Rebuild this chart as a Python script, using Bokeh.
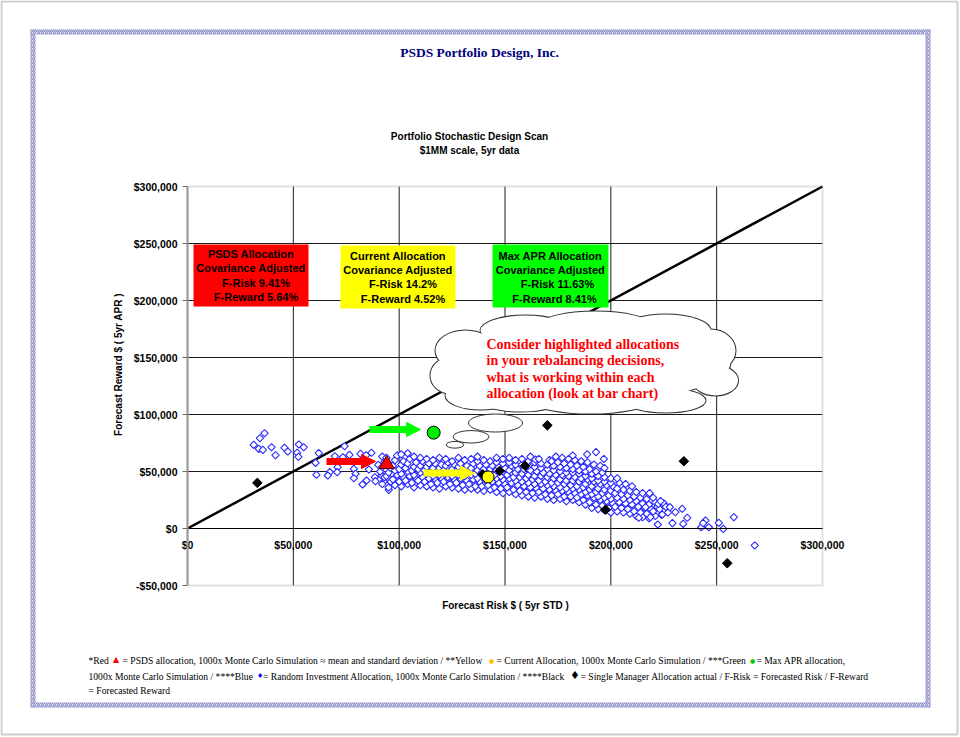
import math
from bokeh.plotting import figure
from bokeh.models import (Range1d, LinearAxis, FixedTicker, BoxAnnotation, Label,
                          Arrow, NormalHead)
from bokeh.embed import file_html
from bokeh.resources import INLINE

# ---------------- chart values ----------------
x_ticks = [0, 50000, 100000, 150000, 200000, 250000, 300000]
x_tick_labels = ["$0", "$50,000", "$100,000", "$150,000", "$200,000", "$250,000", "$300,000"]
y_ticks = [-50000, 0, 50000, 100000, 150000, 200000, 250000, 300000]
y_tick_labels = ["-$50,000", "$0", "$50,000", "$100,000", "$150,000",
                 "$200,000", "$250,000", "$300,000"]

diag_risk = [0, 300000]
diag_reward = [0, 300000]

psds_risk = [94100]
psds_reward = [56400]
current_risk = [142000]
current_reward = [45200]
maxapr_risk = [116300]
maxapr_reward = [84100]

manager_risk = [33000, 139500, 147500, 159500, 170000, 197500, 234500, 255000]
manager_reward = [40000, 47500, 50500, 55000, 90500, 16500, 59000, -30500]

# random investment allocations (risk k$, reward k$)
blue_left_k = [
    (36.4, 83.6), (34.2, 79.2), (31.3, 73.4), (33.7, 69.9), (35.6, 69.0), (39.7, 71.3),
    (41.6, 64.3), (45.8, 70.8), (47.4, 67.5), (52.6, 73.7), (54.9, 71.3), (51.8, 66.4),
    (52.4, 62.9), (62.0, 66.1), (60.5, 57.6), (60.9, 47.1), (74.2, 72.2), (69.6, 63.4),
    (73.4, 62.5), (76.5, 64.6), (70.9, 53.8), (70.7, 49.4), (67.2, 49.4), (66.3, 46.5),
    (81.7, 65.5), (84.4, 64.3), (86.9, 66.4), (78.6, 52.4), (79.4, 48.0), (78.6, 44.1),
    (85.7, 51.8), (84.6, 42.1), (82.7, 38.6), (88.5, 45.0), (88.8, 41.5), (91.7, 46.5),
    (92.7, 41.2), (95.1, 33.9), (90.1, 55.9), (96.7, 48.0), (100.6, 39.7),
]
blue_core_k = [
    (92, 39), (93, 45), (91, 50), (92, 54), (93, 58), (92, 63),
    (95, 36), (96, 41), (94, 46), (95, 49), (96, 53), (95, 57), (94, 62),
    (98, 38), (97, 43), (99, 47), (98, 51), (97, 55), (98, 60), (99, 64),
    (101, 37), (100, 41), (102, 45), (101, 48), (100, 52), (101, 56), (102, 59), (101, 65),
    (104, 39), (103, 42), (105, 46), (104, 50), (103, 53), (104, 57), (105, 61), (104, 66),
    (107, 36), (106, 40), (108, 44), (107, 47), (106, 51), (107, 54), (108, 58), (107, 63),
    (110, 38), (109, 42), (111, 45), (110, 49), (109, 52), (110, 55), (111, 59), (110, 62),
    (113, 37), (112, 41), (114, 44), (113, 48), (112, 51), (113, 54), (114, 57), (113, 61),
    (116, 36), (115, 39), (117, 43), (116, 46), (115, 50), (116, 53), (117, 57), (116, 60),
    (119, 35), (118, 40), (120, 44), (119, 47), (118, 50), (119, 53), (120, 56), (119, 62),
    (122, 37), (121, 41), (123, 45), (122, 48), (121, 51), (122, 55), (123, 58), (122, 61),
    (125, 36), (124, 39), (126, 43), (125, 46), (124, 49), (125, 52), (126, 56), (125, 59),
    (128, 35), (127, 40), (129, 44), (128, 47), (127, 50), (128, 54), (129, 57), (128, 62),
    (131, 34), (130, 38), (132, 42), (131, 46), (130, 49), (131, 52), (132, 55), (131, 60),
    (134, 35), (133, 39), (135, 43), (134, 47), (133, 50), (134, 53), (135, 57), (134, 61),
    (137, 34), (136, 37), (138, 41), (137, 44), (136, 48), (137, 51), (138, 55), (137, 59), (137, 63),
    (140, 33), (139, 37), (141, 42), (140, 45), (139, 49), (140, 52), (141, 56), (140, 60),
    (143, 34), (142, 38), (144, 41), (143, 45), (142, 48), (143, 52), (144, 55), (143, 59),
    (146, 32), (145, 36), (147, 40), (146, 44), (145, 47), (146, 51), (147, 54), (146, 58), (146, 62),
    (149, 31), (148, 35), (150, 39), (149, 43), (148, 46), (149, 50), (150, 53), (149, 57), (149, 61),
    (152, 32), (151, 36), (153, 40), (152, 44), (151, 47), (152, 51), (153, 55), (152, 58), (152, 62),
    (155, 30), (154, 34), (156, 38), (155, 42), (154, 45), (155, 49), (156, 52), (155, 56), (155, 60),
    (158, 29), (157, 33), (159, 37), (158, 41), (157, 45), (158, 48), (159, 52), (158, 56), (158, 61),
    (161, 28), (160, 32), (162, 36), (161, 40), (160, 44), (161, 47), (162, 51), (161, 55), (161, 59), (162, 63),
    (164, 27), (163, 31), (165, 35), (164, 39), (163, 43), (164, 46), (165, 50), (164, 54), (164, 58), (164.4, 60.5),
    (167, 28), (166, 32), (168, 35), (167, 39), (166, 42), (167, 46), (168, 49), (167, 53), (167, 57), (166, 61),
    (170, 26), (169, 30), (171, 34), (170, 38), (169, 41), (170, 45), (171, 48), (170, 52), (170, 56), (171, 60),
    (173, 25), (172, 29), (174, 33), (173, 37), (172, 40), (173, 44), (174, 47), (173, 51), (173, 55), (172, 59), (174, 63),
    (176, 26), (175, 30), (177, 33), (176, 36), (175, 40), (176, 43), (177, 47), (176, 50), (176, 54), (175, 58), (177, 62),
    (179, 24), (178, 28), (180, 32), (179, 35), (178, 39), (179, 42), (180, 46), (179, 49), (179, 53), (178, 57), (180, 61),
    (182, 25), (181, 28), (183, 31), (182, 35), (181, 38), (182, 42), (183, 45), (182, 49), (182, 52), (181, 56), (183, 60), (182, 64),
    (185, 23), (184, 27), (186, 30), (185, 34), (184, 37), (185, 41), (186, 44), (185, 48), (185, 51), (184, 55), (186, 59),
    (188, 21), (187, 25), (189, 29), (188, 32), (187, 36), (188, 39), (189, 43), (188, 46), (188, 50), (187, 54), (189, 58), (188.8, 65.0),
    (191, 18), (190, 23), (192, 27), (191, 30), (190, 34), (191, 37), (192, 41), (191, 44), (191, 48), (190, 52), (192, 56), (193, 67),
    (194, 17), (193, 21), (195, 25), (194, 28), (193, 32), (194, 35), (195, 39), (194, 42), (194, 46), (193, 50), (195, 55),
    (197, 16), (196, 20), (198, 24), (197, 27), (196, 31), (197, 34), (198, 38), (197, 41), (197, 45), (196, 49), (197, 53), (196.7, 61.0),
    (200, 14), (199, 18), (201, 22), (200, 26), (199, 29), (200, 33), (201, 37), (200, 40), (200, 44),
    (203, 15), (202, 19), (204, 23), (203, 27), (202, 31), (203, 35), (204, 40), (203, 44),
    (206, 14), (205, 18), (207, 22), (206, 26), (205, 30), (206, 34), (207, 39),
    (209, 13), (208, 17), (210, 21), (209, 25), (208, 29), (209, 33), (210, 37),
    (212, 11), (211, 15), (213, 19), (212, 24), (211, 28), (212, 32),
    (215, 10), (214, 14), (216, 18), (215, 22), (214, 27), (215, 31),
    (218, 9), (217, 13), (219, 17), (218, 21), (217, 26), (218, 30),
    (221, 11), (220, 15), (222, 19), (221, 23), (220, 27),
    (224, 12), (223, 17), (225, 22),
    (227, 14), (226, 19),
]
blue_tail_k = [
    (258.1, 9.9), (253.1, -0.3), (251.0, 5.0), (246.3, 1.1), (244.7, 7.0), (242.7, 1.1),
    (243.6, 4.7), (236.1, 9.4), (234.2, 4.1), (229.1, 4.7), (233.7, 17.3), (230.5, 14.3),
    (227.9, 18.7), (222.2, 3.5), (224.3, 12.3), (222.4, 21.6), (223.5, 24.0), (218.3, 31.0),
    (218.7, 9.9), (213.2, 9.4), (216.4, 18.7), (268.0, -14.9),
]

box_titles = ["PSDS Allocation", "Current Allocation", "Max APR Allocation"]
box_subtitle = "Covariance Adjusted"
box_f_risk = ["9.41%", "14.2%", "11.63%"]
box_f_reward = ["5.64%", "4.52%", "8.41%"]

page_title = "PSDS Portfolio Design, Inc."
chart_title = ["Portfolio Stochastic Design Scan", "$1MM scale, 5yr data"]
x_title = "Forecast Risk $ ( 5yr STD )"
y_title = "Forecast Reward $ ( 5yr APR )"
cloud_lines = ["Consider highlighted allocations", "in your rebalancing decisions,",
               "what is working within each", "allocation (look at bar chart)"]

# ---------------- layout (page pixels) ----------------
W, H = 960, 737
FL, FR, FT, FB = 187, 822, 186, 585          # plot area on the page
XMIN, XMAX, YMIN, YMAX = 0, 300000, -50000, 300000


def dx(px):
    return XMIN + (px - FL) * (XMAX - XMIN) / (FR - FL)


def dy(py):
    return YMAX - (py - FT) * (YMAX - YMIN) / (FB - FT)


def sw(w):
    return w * (XMAX - XMIN) / (FR - FL)


def sh(h):
    return h * (YMAX - YMIN) / (FB - FT)


# the frame covers the whole page, so nothing outside the plot area gets clipped
p = figure(width=W, height=H, x_range=Range1d(dx(0), dx(W)), y_range=Range1d(dy(H), dy(0)),
           output_backend="svg", toolbar_location=None, title=None,
           x_axis_location=None, y_axis_location=None,
           min_border_left=0, min_border_right=0, min_border_top=0, min_border_bottom=0)
p.min_border = 0
p.background_fill_color = "white"
p.border_fill_color = "white"
p.outline_line_color = None
p.xgrid.visible = False
p.ygrid.visible = False

# grid lines at the interior ticks
gx = x_ticks[1:-1]
gy = y_ticks[1:-1]
p.segment(x0=gx, y0=[YMIN] * len(gx), x1=gx, y1=[YMAX] * len(gx),
          line_color="#1a1a1a", line_width=1)
p.segment(x0=[XMIN] * len(gy), y0=gy, x1=[XMAX] * len(gy), y1=gy,
          line_color="#1a1a1a", line_width=1)

# plot-area border
p.add_layout(BoxAnnotation(left=XMIN, right=XMAX, bottom=YMIN, top=YMAX, fill_alpha=0,
                           line_color="#9a9a9a", line_width=2))

# axes
yax = LinearAxis(fixed_location=0, bounds=(YMIN, YMAX), ticker=FixedTicker(ticks=y_ticks),
                 major_label_overrides={t: l for t, l in zip(y_ticks, y_tick_labels)},
                 major_label_text_font="Liberation Sans", major_label_text_font_style="bold",
                 major_label_text_font_size="10.5px", major_label_text_color="black",
                 major_tick_out=5, major_tick_in=0, major_label_standoff=5,
                 minor_tick_line_color=None, axis_line_color="#9a9a9a", axis_line_width=2,
                 major_tick_line_color="#666666")
p.add_layout(yax, "left")

xax = LinearAxis(fixed_location=0, bounds=(XMIN, XMAX), ticker=FixedTicker(ticks=x_ticks),
                 major_label_overrides={t: l for t, l in zip(x_ticks, x_tick_labels)},
                 major_label_text_font="Liberation Sans", major_label_text_font_style="bold",
                 major_label_text_font_size="10.5px", major_label_text_color="black",
                 major_tick_in=0, major_tick_out=0, major_label_standoff=10,
                 minor_tick_line_color=None, axis_line_color="black")
p.add_layout(xax, "below")

p.add_layout(Label(x=dx(505), y=dy(605), text=x_title, text_align="center", text_baseline="middle",
                   text_font="Liberation Sans", text_font_style="bold", text_font_size="10px",
                   text_color="black"))
p.add_layout(Label(x=dx(118), y=dy(364), text=y_title, angle=math.pi / 2, text_align="center",
                   text_baseline="middle", text_font="Liberation Sans", text_font_style="bold",
                   text_font_size="10px", text_color="black"))

# 45-degree reference line
p.line(diag_risk, diag_reward, line_color="black", line_width=2.5)

# thought cloud (page px: cx, cy, w, h)
cloud_lobes = [
    (585, 362, 290, 80), (465, 350, 60, 40), (450, 375, 40, 36), (480, 395, 70, 28),
    (525, 330, 90, 30), (595, 325, 110, 28), (665, 330, 90, 32), (710, 350, 50, 42),
    (715, 380, 45, 30), (665, 400, 80, 24), (590, 402, 110, 22), (520, 400, 80, 22),
]
bubbles = [(495, 422.5, 54, 18), (470.5, 436.3, 36, 12.5), (454.5, 444.3, 17.5, 6.7)]
cx = [dx(c[0]) for c in cloud_lobes]
cy = [dy(c[1]) for c in cloud_lobes]
cw = [sw(c[2]) for c in cloud_lobes]
ch = [sh(c[3]) for c in cloud_lobes]
p.ellipse(cx, cy, cw, ch, fill_color="white", line_color="#333333", line_width=2)
p.ellipse(cx, cy, cw, ch, fill_color="white", line_color=None)
p.ellipse([dx(b[0]) for b in bubbles], [dy(b[1]) for b in bubbles],
          [sw(b[2]) for b in bubbles], [sh(b[3]) for b in bubbles],
          fill_color="white", line_color="#333333", line_width=1)

# data points
blue_all = blue_left_k + blue_core_k + blue_tail_k
p.scatter([a * 1000 for a, b in blue_all], [b * 1000 for a, b in blue_all],
          marker="square", angle=math.pi / 4, size=5.2,
          fill_color="white", line_color="#2a2aff", line_width=1.1)
p.scatter(manager_risk, manager_reward, marker="square", angle=math.pi / 4, size=6.8,
          fill_color="black", line_color="black")
p.scatter(psds_risk, psds_reward, marker="triangle", size=15,
          fill_color="#ff0000", line_color="#550000", line_width=1)
p.scatter(current_risk, current_reward, marker="circle", size=12,
          fill_color="#ffff00", line_color="black", line_width=1)
p.scatter(maxapr_risk, maxapr_reward, marker="circle", size=13,
          fill_color="#00ee00", line_color="black", line_width=1)

# arrows (page px)
arrow_specs = [((326, 375, 461), "#ff0000"), ((369, 420, 429), "#00ff00"),
               ((423, 474, 472.5), "#ffff00")]
for (x0, x1, yy), col in arrow_specs:
    p.add_layout(Arrow(x_start=dx(x0), x_end=dx(x1), y_start=dy(yy), y_end=dy(yy),
                       line_color=col, line_width=7,
                       end=NormalHead(size=14, fill_color=col, line_color=col)))

# coloured allocation boxes (page px)
box_rects = [(193, 308, 244, 306), (340, 455, 245, 308), (492, 608, 244, 307)]
box_colors = ["#ff0000", "#ffff00", "#00ff00"]
box_line_y = [(253.3, 267.7, 282.3, 296.7), (255, 269.3, 283.3, 298), (255, 269.3, 283.3, 298)]
box_line_dx = [(0, 0, 5, 5), (0, 0, 5, 5), (0, 0, 7, 4)]
for i in range(3):
    l, r, t, b = box_rects[i]
    p.add_layout(BoxAnnotation(left=dx(l), right=dx(r), top=dy(t), bottom=dy(b),
                               fill_color=box_colors[i], fill_alpha=1, line_color=None))
    texts = [box_titles[i], box_subtitle, "F-Risk " + box_f_risk[i], "F-Reward " + box_f_reward[i]]
    for j, txt in enumerate(texts):
        p.add_layout(Label(x=dx((l + r) / 2 + box_line_dx[i][j]), y=dy(box_line_y[i][j]), text=txt,
                           text_align="center", text_baseline="middle",
                           text_font="Liberation Sans", text_font_style="bold",
                           text_font_size="11px", text_color="black"))

# cloud text
for j, txt in enumerate(cloud_lines):
    p.add_layout(Label(x=dx(486), y=dy(343.5 + j * 16.5), text=txt,
                       text_align="left", text_baseline="middle",
                       text_font="Liberation Serif", text_font_style="bold",
                       text_font_size="14px", text_color="#ff0000"))

# page titles
p.add_layout(Label(x=dx(479), y=dy(52), text=page_title, text_align="center",
                   text_baseline="middle", text_font="Liberation Serif",
                   text_font_style="bold", text_font_size="13.5px", text_color="#000080"))
for j, txt in enumerate(chart_title):
    p.add_layout(Label(x=dx(469), y=dy(136 + j * 14), text=txt, text_align="center",
                       text_baseline="middle", text_font="Liberation Sans",
                       text_font_style="bold", text_font_size="10px", text_color="black"))

# footnote (page px: x, y, text, colour, font, size)
L1, L2, L3 = 659.5, 675.5, 689.5
footnote = [
    (88, L1, "*Red", "black", "Liberation Serif", "9.6px"),
    (112.5, L1 - 1, "\u25B2", "#ff0000", "DejaVu Sans", "8px"),
    (122, L1, "= PSDS allocation, 1000x Monte Carlo Simulation \u2248 mean and standard deviation / **Yellow",
     "black", "Liberation Serif", "9.6px"),
    (488.5, L1, "\u25CF", "#ffc000", "DejaVu Sans", "6px"),
    (496, L1, "= Current Allocation, 1000x Monte Carlo Simulation / ***Green", "black",
     "Liberation Serif", "9.6px"),
    (749.5, L1, "\u25CF", "#00cc00", "DejaVu Sans", "6px"),
    (756, L1, "= Max APR allocation,", "black", "Liberation Serif", "9.6px"),
    (88, L2, "1000x Monte Carlo Simulation / ****Blue", "black", "Liberation Serif", "9.6px"),
    (256.5, L2, "\u2666", "#0000ff", "DejaVu Sans", "7px"),
    (262.5, L2, "= Random Investment Allocation, 1000x Monte Carlo Simulation / ****Black",
     "black", "Liberation Serif", "9.6px"),
    (569.5, L2 - 1, "\u2666", "black", "DejaVu Sans", "11px"),
    (580, L2, "= Single Manager Allocation actual / F-Risk = Forecasted Risk / F-Reward",
     "black", "Liberation Serif", "9.6px"),
    (88, L3, "= Forecasted Reward", "black", "Liberation Serif", "9.6px"),
]
for fx, fy, txt, col, font, size in footnote:
    p.add_layout(Label(x=dx(fx), y=dy(fy), text=txt, text_align="left", text_baseline="middle",
                       text_font=font, text_font_size=size, text_color=col))

# hatched page border (page px)
bl, br, bt, bb, th = 30, 930, 29, 707, 5
for l, r, t, b in [(bl, br, bt, bt + th), (bl, br, bb - th, bb),
                   (bl, bl + th, bt, bb), (br - th, br, bt, bb)]:
    p.add_layout(BoxAnnotation(left=dx(l), right=dx(r), top=dy(t), bottom=dy(b),
                               fill_color="#e4e4f4", fill_alpha=1, line_color=None,
                               hatch_pattern="/", hatch_color="#8a8ac8", hatch_scale=4,
                               hatch_weight=1.2))
# outer page frame
p.add_layout(BoxAnnotation(left=dx(1), right=dx(957), top=dy(1), bottom=dy(734),
                           fill_alpha=0, line_color="#555555", line_width=2))

open("out.html", "w").write(file_html(p, INLINE))
